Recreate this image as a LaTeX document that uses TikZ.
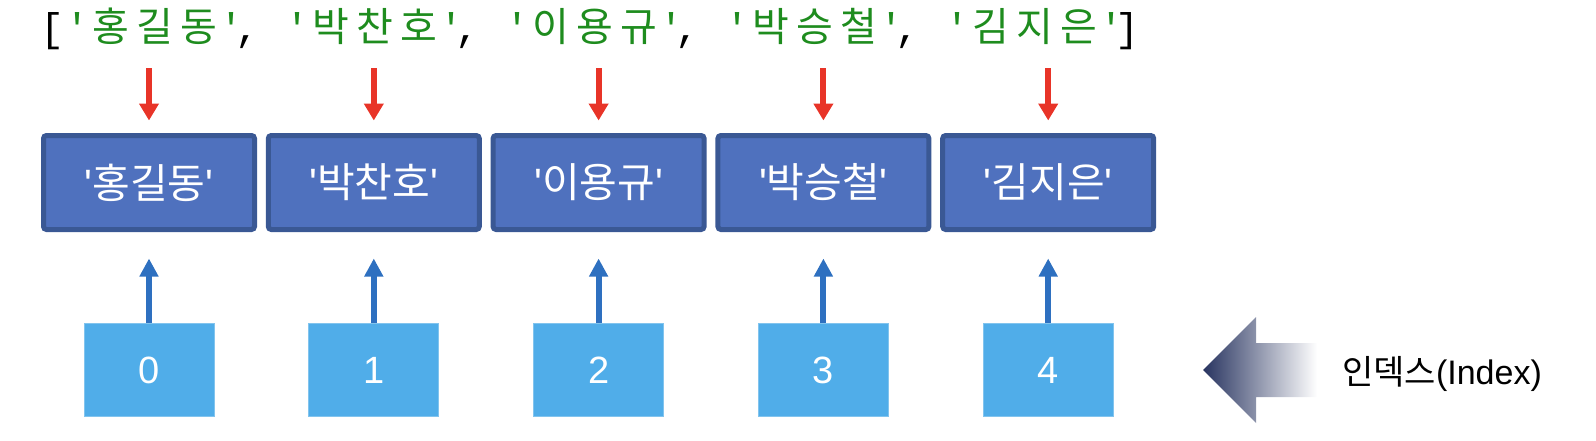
\documentclass[tikz,border=0pt]{standalone}
\usepackage{fontspec}
\setmainfont{Liberation Sans}
\newfontfamily\kr{Noto Sans CJK KR}
\newfontfamily\monof{Liberation Mono}
\usetikzlibrary{arrows.meta}
\definecolor{codegreen}{RGB}{30,140,30}
\definecolor{arrred}{RGB}{232,52,40}
\definecolor{boxfill}{RGB}{79,113,190}
\definecolor{boxedge}{RGB}{58,88,148}
\definecolor{idxfill}{RGB}{80,173,233}
\definecolor{idxedge}{RGB}{130,196,238}
\definecolor{arrblue}{RGB}{46,112,192}
\definecolor{navyd}{RGB}{40,52,96}
\newcommand\hcell[1]{\makebox[44pt]{#1}}
\newcommand\qcell{\makebox[22pt]{\textquotesingle}}
\newcommand\codeitem[3]{{\color{codegreen}\qcell{\kr\hcell{#1}\hcell{#2}\hcell{#3}}\qcell}}
\newcommand\ccell{\makebox[22pt]{,\kern12pt}\makebox[22pt]{}}
\begin{document}
\begin{tikzpicture}[x=1pt,y=-1pt,
  codetxt/.style={inner sep=0pt, anchor=base west, font=\monof\fontsize{40}{48}\selectfont},
  valbox/.style={draw=boxedge, line width=5pt, fill=boxfill, rounded corners=3pt,
    minimum width=211pt, minimum height=94pt, inner sep=0pt, text=white,
    font=\fontsize{41}{48}\selectfont},
  idxbox/.style={draw=idxedge, line width=1pt, fill=idxfill, minimum width=130pt,
    minimum height=93pt, inner sep=0pt, text=white, font=\fontsize{38}{44}\selectfont},
  redarr/.style={draw=arrred, line width=6pt, -{Triangle[width=19pt,length=17pt]}},
  bluearr/.style={draw=arrblue, line width=6pt, -{Triangle[width=18pt,length=18pt]}},
  lbltxt/.style={anchor=base west, inner sep=0pt, font=\fontsize{34}{40}\selectfont}
]
\useasboundingbox (0,0) rectangle (1596,440);

% code line
\node[codetxt] (code) at (44.5,41) {\makebox[22pt]{[\kern6pt}%
\codeitem{홍}{길}{동}\ccell\codeitem{박}{찬}{호}\ccell\codeitem{이}{용}{규}\ccell%
\codeitem{박}{승}{철}\ccell\codeitem{김}{지}{은}\makebox[22pt]{]\kern12pt}};

% value boxes and index boxes
\foreach \k/\a/\b/\c/\d in {1/홍/길/동/0, 2/박/찬/호/1, 3/이/용/규/2, 4/박/승/철/3, 5/김/지/은/4}{
  \node[valbox] (b\k) at ({149+224.8*(\k-1)},182.5) {\textquotesingle{\kr \a\b\c}\textquotesingle};
  \node[idxbox] (i\k) at ({149+224.8*(\k-1)},370) {\d};
  \coordinate (s\k) at (b\k.north |- code.base);
  \draw[redarr] ([yshift=-27pt]s\k) -- ([yshift=12.5pt]b\k.north);
  \draw[bluearr] (i\k.north) -- ([yshift=-26.5pt]b\k.south);
}

% fat gradient arrow
\shade[left color=navyd, right color=white]
  (1203,370) -- (1256,317) -- (1256,343) -- (1317,343) -- (1317,397)
  -- (1256,397) -- (1256,423) -- cycle;

\node[lbltxt] (lbl) at (1342,384) {{\kr 인덱스}(Index)};
\end{tikzpicture}
\end{document}
